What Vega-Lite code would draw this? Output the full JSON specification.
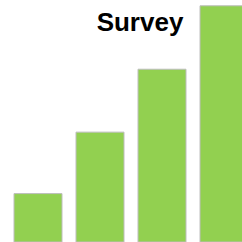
{
  "$schema": "https://vega.github.io/schema/vega-lite/v6.json",
  "width": 242,
  "height": 242,
  "autosize": {"type": "none"},
  "padding": 0,
  "background": "white",
  "config": {"view": {"stroke": null}},
  "layer": [
    {
      "data": {"values": [
        {"bar": 1, "value": 1.0},
        {"bar": 2, "value": 2.27},
        {"bar": 3, "value": 3.57},
        {"bar": 4, "value": 4.88}
      ]},
      "mark": {"type": "bar", "size": 48, "color": "#92D050", "stroke": "#BDBDBD", "strokeWidth": 1, "clip": true},
      "encoding": {
        "x": {"field": "bar", "type": "quantitative", "scale": {"domain": [0.387, 4.29], "nice": false, "zero": false, "padding": 0}, "axis": null},
        "y": {"field": "value", "type": "quantitative", "scale": {"domain": [0, 5], "nice": false}, "axis": null}
      }
    },
    {
      "data": {"values": [{"label": "Survey", "px": 2.645, "py": 4.52}]},
      "mark": {"type": "text", "font": "Liberation Sans", "fontWeight": "bold", "fontSize": 26, "color": "black", "baseline": "middle", "align": "center"},
      "encoding": {
        "text": {"field": "label"},
        "x": {"field": "px", "type": "quantitative", "scale": {"domain": [0.387, 4.29], "nice": false, "zero": false, "padding": 0}, "axis": null},
        "y": {"field": "py", "type": "quantitative", "scale": {"domain": [0, 5], "nice": false}, "axis": null}
      }
    }
  ]
}
